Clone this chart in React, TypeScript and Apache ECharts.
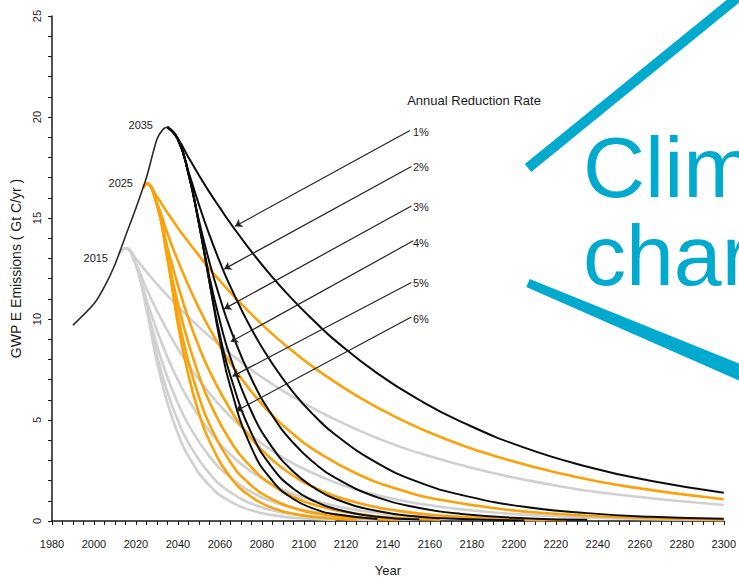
import React, { useEffect, useRef } from "react";
import * as echarts from "echarts";

// ---- data ----
const baseYears = [1990, 2000, 2005, 2010, 2015, 2020, 2025, 2030, 2033, 2035];
const baseValues = [9.7, 10.75, 11.6, 12.7, 14.1, 15.5, 17.0, 18.9, 19.4, 19.5];

const grayPrefix = [[2012, 13.25]];
const orangePrefix = [[2023.5, 16.5]];

const grayYears = [2015, 2020, 2025, 2030, 2035, 2040, 2045, 2055, 2065, 2075, 2085, 2095, 2115, 2135, 2155, 2185, 2215, 2245, 2300];
const orangeYears = [2025, 2030, 2035, 2040, 2045, 2050, 2055, 2065, 2075, 2085, 2095, 2105, 2125, 2145, 2165, 2195, 2225, 2255, 2300];
const blackYears = [2035, 2040, 2045, 2050, 2055, 2060, 2065, 2075, 2085, 2095, 2105, 2115, 2135, 2155, 2175, 2205, 2235, 2265, 2300];

const gray1 = [13.5, 12.97, 12.34, 11.73, 11.16, 10.62, 10.1, 9.14, 8.28, 7.48, 6.78, 6.13, 5.02, 4.1, 3.36, 2.5, 1.85, 1.36, 0.79];
const gray2 = [13.5, 12.72, 11.5, 10.41, 9.42, 8.52, 7.71, 6.32, 5.17, 4.23, 3.47, 2.84, 1.9, 1.27, 0.85, 0.47, 0.26, 0.14, 0.05];
const gray3 = [13.5, 12.68, 10.95, 9.42, 8.1, 6.98, 6.01, 4.46, 3.29, 2.44, 1.81, 1.34, 0.74, 0.41, 0.22, 0.09, 0.04];
const gray4 = [13.5, 12.68, 10.62, 8.69, 7.11, 5.83, 4.77, 3.2, 2.15, 1.43, 0.96, 0.65, 0.29, 0.13, 0.06];
const gray5 = [13.5, 12.68, 10.52, 8.19, 6.37, 4.97, 3.87, 2.35, 1.42, 0.86, 0.53, 0.32, 0.12, 0.04];
const gray6 = [13.5, 12.68, 10.52, 7.87, 5.83, 4.32, 3.2, 1.76, 0.96, 0.53, 0.29, 0.16, 0.05];

const orange1 = [16.7, 16.05, 15.26, 14.51, 13.81, 13.14, 12.49, 11.31, 10.24, 9.25, 8.38, 7.58, 6.21, 5.08, 4.16, 3.09, 2.29, 1.69, 1.08];
const orange2 = [16.7, 15.73, 14.23, 12.88, 11.66, 10.54, 9.54, 7.82, 6.4, 5.23, 4.29, 3.51, 2.35, 1.57, 1.05, 0.58, 0.32, 0.18, 0.07];
const orange3 = [16.7, 15.68, 13.54, 11.66, 10.02, 8.63, 7.43, 5.51, 4.07, 3.02, 2.24, 1.65, 0.91, 0.5, 0.27, 0.11, 0.05];
const orange4 = [16.7, 15.68, 13.14, 10.75, 8.8, 7.21, 5.9, 3.96, 2.66, 1.77, 1.19, 0.8, 0.36, 0.16, 0.07];
const orange5 = [16.7, 15.68, 13.01, 10.14, 7.88, 6.15, 4.79, 2.91, 1.75, 1.07, 0.65, 0.39, 0.15, 0.05];
const orange6 = [16.7, 15.68, 13.01, 9.74, 7.21, 5.34, 3.96, 2.17, 1.19, 0.65, 0.36, 0.2, 0.06];

const black1 = [19.5, 18.92, 18.0, 17.12, 16.28, 15.5, 14.74, 13.34, 12.07, 10.92, 9.89, 8.93, 7.31, 5.99, 4.91, 3.63, 2.69, 1.99, 1.4];
const black2 = [19.5, 18.9, 17.3, 15.66, 14.16, 12.81, 11.6, 9.5, 7.78, 6.36, 5.21, 4.27, 2.87, 1.91, 1.29, 0.7, 0.39, 0.21, 0.11];
const black3 = [19.5, 18.9, 17.2, 14.88, 12.81, 11.04, 9.5, 7.04, 5.21, 3.86, 2.87, 2.13, 1.17, 0.64, 0.35, 0.14, 0.06];
const black4 = [19.5, 18.9, 17.2, 14.72, 12.07, 9.89, 8.09, 5.42, 3.63, 2.44, 1.64, 1.09, 0.49, 0.21, 0.1, 0.03];
const black5 = [19.5, 18.9, 17.2, 14.72, 11.84, 9.2, 7.18, 4.35, 2.63, 1.6, 0.98, 0.59, 0.21, 0.08];
const black6 = [19.5, 18.9, 17.2, 14.72, 11.84, 8.93, 6.63, 3.63, 1.99, 1.09, 0.6, 0.33, 0.1];

const rateLabels = ["1%", "2%", "3%", "4%", "5%", "6%"];
const arrowStarts = [[2150.5, 19.33], [2151.2, 17.55], [2151.2, 15.59], [2152.1, 13.87], [2151.2, 11.81], [2151.2, 10.1]];
const arrowTips = [[2067.2, 14.59], [2062.0, 12.47], [2062.0, 10.5], [2065.2, 8.87], [2066.0, 7.16], [2067.6, 5.44]];
const peakLabels = ["2015", "2025", "2035"];

// ---- styling ----
const SANS = "'Liberation Sans', Arial, sans-serif";
const INK = "#1a1a1a";
const GRAY = "#d0d0d0";
const ORANGE = "#f9a20c";
const BLACK = "#0d0d0d";
const CYAN = "#00aacf";

function makeSeries(name: string, prefix: number[][], years: number[], values: number[], color: string, width: number, z: number) {
  const data = prefix.concat(values.map((v, i) => [years[i], v]));
  return {
    name,
    type: "line",
    data,
    smooth: 0.5,
    showSymbol: false,
    symbol: "none",
    silent: true,
    z,
    lineStyle: { color, width },
  };
}

export default function App() {
  const ref = useRef<HTMLDivElement>(null);

  useEffect(() => {
    if (!ref.current) return;
    const chart = echarts.init(ref.current, undefined, { renderer: "svg" });

    const grays = [gray1, gray2, gray3, gray4, gray5, gray6];
    const oranges = [orange1, orange2, orange3, orange4, orange5, orange6];
    const blacks = [black1, black2, black3, black4, black5, black6];

    const series: any[] = [];
    grays.forEach((v, i) => series.push(makeSeries("2015 peak " + rateLabels[i], grayPrefix, grayYears, v, GRAY, 2.6, 1)));
    oranges.forEach((v, i) => series.push(makeSeries("2025 peak " + rateLabels[i], orangePrefix, orangeYears, v, ORANGE, 2.6, 2)));
    blacks.forEach((v, i) => series.push(makeSeries("2035 peak " + rateLabels[i], [], blackYears, v, BLACK, 2, 3)));

    series.push({
      name: "Historical",
      type: "line",
      data: baseYears.map((y, i) => [y, baseValues[i]]),
      smooth: 0.3,
      showSymbol: false,
      symbol: "none",
      silent: true,
      z: 4,
      lineStyle: { color: "#2a2a2a", width: 1.6 },
      markLine: {
        silent: true,
        animation: false,
        symbol: ["none", "arrow"],
        symbolSize: 7,
        label: { show: false },
        lineStyle: { color: "#222", width: 1.2, type: "solid" },
        data: arrowStarts.map((s, i) => [{ coord: s }, { coord: arrowTips[i] }]),
      },
    });

    const labelYs = [132, 167, 207, 243, 283, 319];
    const peakPos = [[108, 258], [133, 183], [153, 125]];

    const graphic: any[] = [
      {
        type: "line",
        silent: true,
        shape: { x1: 528, y1: 168, x2: 748, y2: -11 },
        style: { stroke: CYAN, lineWidth: 10, lineCap: "butt" },
      },
      {
        type: "polygon",
        silent: true,
        shape: { points: [[529.7, 278.9], [748.1, 367.1], [741.9, 381.9], [526.3, 287.1]] },
        style: { fill: CYAN },
      },
      {
        type: "text",
        silent: true,
        x: 583,
        y: 167,
        style: { text: "Clim", fill: CYAN, fontSize: 86, fontFamily: SANS, textVerticalAlign: "middle" },
      },
      {
        type: "text",
        silent: true,
        x: 583,
        y: 255,
        style: { text: "char", fill: CYAN, fontSize: 86, fontFamily: SANS, textVerticalAlign: "middle" },
      },
      {
        type: "text",
        silent: true,
        x: 474,
        y: 100,
        style: { text: "Annual Reduction Rate", fill: INK, fontSize: 13, fontFamily: SANS, textAlign: "center", textVerticalAlign: "middle" },
      },
    ];
    rateLabels.forEach((t, i) => {
      graphic.push({
        type: "text",
        silent: true,
        x: 413,
        y: labelYs[i],
        style: { text: t, fill: INK, fontSize: 11, fontFamily: SANS, textAlign: "left", textVerticalAlign: "middle" },
      });
    });
    peakLabels.forEach((t, i) => {
      graphic.push({
        type: "text",
        silent: true,
        x: peakPos[i][0],
        y: peakPos[i][1],
        style: { text: t, fill: INK, fontSize: 11, fontFamily: SANS, textAlign: "right", textVerticalAlign: "middle" },
      });
    });

    chart.setOption({
      animation: false,
      backgroundColor: "#ffffff",
      grid: { left: 52, right: 12, top: 16, bottom: 56, containLabel: false },
      xAxis: {
        type: "value",
        min: 1980,
        max: 2300,
        interval: 20,
        name: "Year",
        nameLocation: "middle",
        nameGap: 43,
        nameTextStyle: { color: INK, fontSize: 13, fontFamily: SANS },
        axisLine: { show: true, onZero: false, lineStyle: { color: INK, width: 1.5 } },
        axisTick: { show: true, length: 4, lineStyle: { color: INK, width: 1 } },
        minorTick: { show: true, splitNumber: 4, length: 4, lineStyle: { color: INK, width: 1 } },
        axisLabel: { color: INK, fontSize: 11, fontFamily: SANS, margin: 17, formatter: (v: number) => String(v) },
        splitLine: { show: false },
        minorSplitLine: { show: false },
      },
      yAxis: {
        type: "value",
        min: 0,
        max: 25,
        interval: 5,
        name: "GWP E Emissions ( Gt C/yr )",
        nameLocation: "middle",
        nameGap: 27,
        nameTextStyle: { color: INK, fontSize: 14, fontFamily: SANS },
        axisLine: { show: true, lineStyle: { color: INK, width: 1.5 } },
        axisTick: { show: true, length: 4, lineStyle: { color: INK, width: 1 } },
        minorTick: { show: true, splitNumber: 5, length: 4, lineStyle: { color: INK, width: 1 } },
        axisLabel: { color: INK, fontSize: 11, fontFamily: SANS, rotate: 90, margin: 10, formatter: (v: number) => String(v) },
        splitLine: { show: false },
        minorSplitLine: { show: false },
      },
      series,
      graphic,
    });

    return () => chart.dispose();
  }, []);

  return (
    <div style={{ position: "fixed", left: 0, top: 0, width: 739, height: 582, overflow: "hidden", background: "#fff" }}>
      <div ref={ref} style={{ width: 739, height: 582 }} />
    </div>
  );
}
